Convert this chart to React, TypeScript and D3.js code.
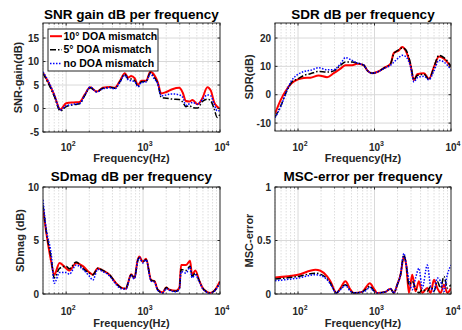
import React from "react";
import * as d3 from "d3";

const FONT = "'Liberation Sans', Arial, Helvetica, sans-serif";

// ---------- data ----------
const legendLabels = ["10° DOA mismatch", "5° DOA mismatch", "no DOA mismatch"];
const xTickExps = ["2", "3", "4"];

// SNR gain
const snrFreq = [50, 60, 70, 84, 100, 125, 150, 175, 205, 250, 300, 370, 430, 500, 580, 640, 700, 780, 860, 950, 1100, 1240, 1400, 1550, 1720, 2000, 2400, 2950, 3270, 3600, 4000, 4400, 5100, 5900, 6850, 7600, 8400, 9200, 10000];
const snrRed = [7.6, 5.3, 2.9, -0.2, 1.1, 1.3, 1.4, 3.0, 4.5, 3.6, 4.4, 4.6, 4.4, 5.9, 7.5, 6.6, 6.9, 6.4, 5.0, 5.9, 5.9, 7.8, 7.1, 5.6, 3.2, 3.5, 4.1, 4.4, 3.4, 1.6, 1.5, 1.8, 0.9, 2.2, 4.5, 3.8, 1.3, 0.4, -0.1];
const snrBlack = [7.5, 5.0, 2.6, -0.5, 0.4, 0.8, 1.0, 2.8, 4.4, 3.6, 4.3, 4.5, 4.3, 5.7, 7.3, 6.3, 6.3, 5.9, 4.7, 5.7, 5.8, 7.6, 6.6, 5.4, 2.4, 2.2, 2.0, 1.9, 1.4, 0.4, 0.6, 0.2, 0.1, 1.5, 2.0, 1.6, -0.1, -1.9, -1.2];
const snrBlue = [7.8, 5.5, 3.0, -0.3, 0.6, 0.9, 1.1, 2.9, 4.6, 3.5, 4.2, 4.4, 4.2, 5.6, 7.1, 6.1, 5.9, 5.7, 4.6, 5.5, 5.7, 7.4, 6.3, 5.3, 2.7, 2.9, 3.1, 2.9, 2.4, 0.7, 1.0, 1.3, 0.9, 1.9, 2.9, 2.7, 0.9, -0.5, -0.5];
const snrTicks = [-5, 0, 5, 10, 15];

// SDR
const sdrFreq = [50, 59, 72, 83, 100, 119, 145, 186, 240, 293, 359, 417, 509, 593, 724, 802, 933, 1084, 1325, 1620, 1790, 2080, 2300, 2550, 2960, 3275, 3620, 4430, 5150, 5990, 6960, 8100, 10000];
const sdrRed = [-6.7, -2.0, 2.1, 4.1, 5.4, 5.9, 6.0, 6.8, 6.2, 7.6, 9.2, 10.4, 10.4, 10.9, 10.4, 8.6, 7.6, 8.0, 9.4, 10.9, 14.7, 15.6, 16.8, 15.6, 10.4, 5.1, 7.2, 7.6, 5.6, 9.8, 13.5, 12.7, 9.8];
const sdrBlack = [-7.9, -4.1, 1.5, 4.5, 5.6, 6.8, 7.4, 8.2, 8.0, 8.4, 10.4, 11.5, 11.5, 11.2, 10.4, 8.6, 7.6, 8.0, 9.4, 10.9, 14.5, 15.9, 16.5, 15.9, 10.9, 5.3, 6.8, 7.2, 5.4, 9.8, 13.9, 13.1, 10.0];
const sdrBlue = [-8.1, -4.4, 1.8, 5.1, 7.2, 8.2, 8.6, 9.5, 8.8, 8.8, 10.9, 13.1, 12.1, 11.2, 10.4, 8.6, 7.6, 8.0, 9.2, 10.4, 11.5, 13.1, 13.9, 13.5, 9.8, 4.5, 6.0, 6.5, 5.3, 8.4, 12.1, 11.5, 8.8];
const sdrTicks = [-10, 0, 10, 20];

// SDmag
const sdmFreq = [50, 55, 64, 70, 82, 100, 110, 135, 165, 201, 222, 258, 299, 365, 446, 518, 601, 631, 698, 771, 852, 895, 990, 1094, 1271, 1403, 1550, 1800, 1995, 2200, 2690, 2970, 3120, 3610, 4080, 4330, 4780, 5400, 5960, 6580, 7420, 8440, 10000];
const sdmRed = [8.0, 5.8, 3.0, 1.8, 2.9, 2.4, 2.2, 2.9, 2.6, 2.0, 1.8, 2.4, 2.2, 1.8, 1.0, 0.6, 0.5, 0.9, 1.85, 1.5, 3.2, 3.5, 3.0, 3.3, 1.3, 1.2, 0.4, 0.15, 0.6, 0.4, 0.3, 0.6, 2.7, 2.7, 3.1, 1.8, 2.2, 1.2, 0.55, 0.25, 0.1, 0.3, 1.2];
const sdmBlack = [8.3, 5.9, 3.3, 1.5, 2.4, 2.6, 2.35, 3.0, 2.4, 1.95, 1.8, 2.4, 2.2, 1.8, 1.0, 0.6, 0.5, 0.9, 1.8, 1.5, 3.1, 3.4, 3.0, 3.2, 1.3, 1.2, 0.4, 0.1, 0.6, 0.4, 0.25, 0.55, 2.3, 2.2, 2.6, 1.65, 1.95, 1.2, 0.55, 0.25, 0.1, 0.3, 1.1];
const sdmBlue = [8.8, 6.1, 3.7, 1.0, 2.0, 2.0, 1.85, 2.7, 2.3, 1.65, 1.3, 2.3, 2.1, 1.7, 0.9, 0.5, 0.45, 0.85, 1.75, 1.4, 3.1, 3.4, 2.9, 3.2, 1.2, 1.1, 0.35, 0.1, 0.5, 0.35, 0.2, 0.5, 2.1, 1.95, 2.5, 1.5, 1.8, 1.1, 0.5, 0.2, 0.05, 0.25, 1.0];
const sdmTicks = [0, 5, 10];

// MSC-error
const mscFreq = [50, 100, 169, 196, 240, 265, 318, 359, 417, 485, 537, 689, 762, 868, 980, 1083, 1393, 1620, 1790, 1982, 2190, 2420, 2600, 2818, 3113, 3440, 3807, 4210, 4898, 5420, 5990, 6610, 7320, 8090, 8950, 10000];
const mscRed = [0.155, 0.18, 0.226, 0.217, 0.164, 0.118, 0.01, 0.056, 0.118, 0.04, 0.01, 0.02, 0.056, 0.10, 0.05, 0.01, 0.02, 0.05, 0.01, 0.087, 0.18, 0.35, 0.27, 0.01, 0.18, 0.025, 0.118, 0.01, 0.056, 0.01, 0.133, 0.056, 0.01, 0.087, 0.01, 0.056];
const mscBlack = [0.14, 0.164, 0.195, 0.186, 0.142, 0.10, 0.01, 0.05, 0.087, 0.03, 0.01, 0.02, 0.04, 0.071, 0.03, 0.01, 0.02, 0.05, 0.01, 0.087, 0.18, 0.365, 0.27, 0.087, 0.118, 0.056, 0.01, 0.04, 0.025, 0.07, 0.025, 0.118, 0.056, 0.164, 0.056, 0.087];
const mscBlue = [0.124, 0.149, 0.18, 0.173, 0.133, 0.093, 0.01, 0.04, 0.08, 0.025, 0.01, 0.02, 0.03, 0.062, 0.025, 0.01, 0.02, 0.05, 0.01, 0.087, 0.18, 0.38, 0.27, 0.133, 0.04, 0.149, 0.24, 0.056, 0.27, 0.07, 0.025, 0.149, 0.118, 0.025, 0.18, 0.27];
const mscTicks = [0, 0.5, 1];

// ---------- styles ----------
const seriesStyles = [
  { color: "#ff0000", width: 2, dash: "" },
  { color: "#000000", width: 1.5, dash: "6,2,1.5,2" },
  { color: "#0000ff", width: 1.5, dash: "1.5,1.5" },
];

const minorFreqs: number[] = [];
[10, 100, 1000].forEach((dec) => {
  for (let k = 2; k <= 9; k++) {
    const f = k * dec;
    if (f >= 50 && f <= 10000) minorFreqs.push(f);
  }
});
const majorFreqs = [100, 1000, 10000];

type PanelProps = {
  id: string;
  box: [number, number, number, number];
  yDomain: [number, number];
  yTicks: number[];
  title: string;
  ylabel: string;
  ylabelX: number;
  freq: number[];
  series: number[][];
  titleY: number;
  xTickY: number;
  xLabelY: number;
};

function Panel(p: PanelProps) {
  const [x0, x1, y0, y1] = p.box;
  const sx = d3.scaleLog().domain([50, 10000]).range([x0, x1]);
  const sy = d3.scaleLinear().domain(p.yDomain).range([y1, y0]);
  const line = d3
    .line<[number, number]>()
    .x((d) => sx(d[0]))
    .y((d) => sy(d[1]))
    .curve(d3.curveMonotoneX);
  const tl = 2.5;
  const axisColor = "#262626";
  return (
    <g>
      <defs>
        <clipPath id={"clip-" + p.id}>
          <rect x={x0} y={y0} width={x1 - x0} height={y1 - y0} />
        </clipPath>
      </defs>
      <rect x={x0} y={y0} width={x1 - x0} height={y1 - y0} fill="#ffffff" />
      {minorFreqs.map((f) => (
        <line key={"mg" + f} x1={sx(f)} x2={sx(f)} y1={y0} y2={y1} stroke="#d6d6d6" strokeWidth={0.8} strokeDasharray="1.5,1.5" />
      ))}
      {majorFreqs.slice(0, 2).map((f) => (
        <line key={"Mg" + f} x1={sx(f)} x2={sx(f)} y1={y0} y2={y1} stroke="#d9d9d9" strokeWidth={1} />
      ))}
      {p.yTicks.map((t) => (
        <line key={"yg" + t} x1={x0} x2={x1} y1={sy(t)} y2={sy(t)} stroke="#d9d9d9" strokeWidth={1} />
      ))}
      <g clipPath={`url(#clip-${p.id})`}>
        {p.series.map((vals, i) => {
          const st = seriesStyles[i];
          const pts = p.freq.map((f, j) => [f, vals[j]] as [number, number]);
          return (
            <path key={"s" + i} d={line(pts) || ""} fill="none" stroke={st.color} strokeWidth={st.width} strokeDasharray={st.dash || undefined} strokeLinejoin="round" />
          );
        })}
      </g>
      {/* ticks */}
      {minorFreqs.map((f) => (
        <g key={"mt" + f}>
          <line x1={sx(f)} x2={sx(f)} y1={y1} y2={y1 - 1.5} stroke={axisColor} strokeWidth={0.8} />
          <line x1={sx(f)} x2={sx(f)} y1={y0} y2={y0 + 1.5} stroke={axisColor} strokeWidth={0.8} />
        </g>
      ))}
      {majorFreqs.map((f) => (
        <g key={"Mt" + f}>
          <line x1={sx(f)} x2={sx(f)} y1={y1} y2={y1 - tl} stroke={axisColor} strokeWidth={1} />
          <line x1={sx(f)} x2={sx(f)} y1={y0} y2={y0 + tl} stroke={axisColor} strokeWidth={1} />
        </g>
      ))}
      {p.yTicks.map((t) => (
        <g key={"yt" + t}>
          <line x1={x0} x2={x0 + tl} y1={sy(t)} y2={sy(t)} stroke={axisColor} strokeWidth={1} />
          <line x1={x1} x2={x1 - tl} y1={sy(t)} y2={sy(t)} stroke={axisColor} strokeWidth={1} />
          <text x={x0 - 4} y={sy(t)} dy="0.35em" textAnchor="end" fontFamily={FONT} fontWeight="bold" fontSize={10} fill={axisColor}>
            {String(t)}
          </text>
        </g>
      ))}
      <rect x={x0} y={y0} width={x1 - x0} height={y1 - y0} fill="none" stroke={axisColor} strokeWidth={1} />
      {majorFreqs.map((f, i) => (
        <text key={"xl" + f} x={sx(f) + 2} y={p.xTickY} textAnchor="middle" fontFamily={FONT} fontWeight="bold" fontSize={10} fill={axisColor}>
          <tspan>10</tspan>
          <tspan dy={-5} fontSize={7}>{xTickExps[i]}</tspan>
        </text>
      ))}
      <text x={(x0 + x1) / 2} y={p.xLabelY} textAnchor="middle" fontFamily={FONT} fontWeight="bold" fontSize={11} fill={axisColor}>
        Frequency(Hz)
      </text>
      <text x={p.ylabelX} y={(y0 + y1) / 2} textAnchor="middle" dy="0.35em" transform={`rotate(-90 ${p.ylabelX} ${(y0 + y1) / 2})`} fontFamily={FONT} fontWeight="bold" fontSize={11} fill={axisColor}>
        {p.ylabel}
      </text>
      <text x={(x0 + x1) / 2} y={p.titleY} textAnchor="middle" fontFamily={FONT} fontWeight="bold" fontSize={13.5} fill="#000">
        {p.title}
      </text>
    </g>
  );
}

function Legend() {
  const lx0 = 48, lx1 = 158, ly0 = 29, ly1 = 71;
  const rows = [36.2, 49.8, 63.4];
  return (
    <g>
      <rect x={lx0} y={ly0} width={lx1 - lx0} height={ly1 - ly0} fill="#ffffff" stroke="#262626" strokeWidth={1} />
      {legendLabels.map((lab, i) => {
        const st = seriesStyles[i];
        return (
          <g key={lab}>
            <line x1={50} x2={62} y1={rows[i]} y2={rows[i]} stroke={st.color} strokeWidth={st.width} strokeDasharray={st.dash || undefined} />
            <text x={63.5} y={rows[i]} dy="0.35em" fontFamily={FONT} fontWeight="bold" fontSize={10.5} fill="#000">
              {lab}
            </text>
          </g>
        );
      })}
    </g>
  );
}

export default function App() {
  return (
    <svg width={462} height={330} style={{ position: "absolute", left: 0, top: 0, background: "#fff" }}>
      <rect x={0} y={0} width={462} height={330} fill="#ffffff" />
      <Panel id="snr" box={[43, 220, 23, 132]} yDomain={[-5, 18.2]} yTicks={snrTicks} title="SNR gain dB per frequency" ylabel="SNR-gain(dB)" ylabelX={18} freq={snrFreq} series={[snrRed, snrBlack, snrBlue]} titleY={19} xTickY={151} xLabelY={162} />
      <Panel id="sdr" box={[275, 451, 23, 131]} yDomain={[-12.8, 25.3]} yTicks={sdrTicks} title="SDR dB per frequency" ylabel="SDR(dB)" ylabelX={249} freq={sdrFreq} series={[sdrRed, sdrBlack, sdrBlue]} titleY={19} xTickY={151} xLabelY={162} />
      <Panel id="sdm" box={[43, 220, 187, 294]} yDomain={[0, 10]} yTicks={sdmTicks} title="SDmag dB per frequency" ylabel="SDmag (dB)" ylabelX={20} freq={sdmFreq} series={[sdmRed, sdmBlack, sdmBlue]} titleY={181} xTickY={315} xLabelY={326.5} />
      <Panel id="msc" box={[275, 451, 187, 294]} yDomain={[0, 1]} yTicks={mscTicks} title="MSC-error per frequency" ylabel="MSC-error" ylabelX={249} freq={mscFreq} series={[mscRed, mscBlack, mscBlue]} titleY={181} xTickY={315} xLabelY={326.5} />
      <Legend />
    </svg>
  );
}
